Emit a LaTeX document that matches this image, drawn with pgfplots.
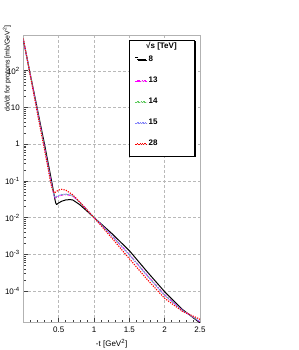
\documentclass[border=0pt]{standalone}
\usepackage{fontspec}
\setmainfont{Liberation Sans}
\usepackage{pgfplots}
\pgfplotsset{compat=1.18}
\usetikzlibrary{shadows}
\definecolor{cmag}{RGB}{255,0,255}
\definecolor{cgreen}{RGB}{90,205,90}
\definecolor{cblue}{RGB}{130,130,255}
\definecolor{cred}{RGB}{255,0,0}
\begin{document}
\begin{tikzpicture}[x=1pt,y=1pt]
\path[use as bounding box] (0,0) rectangle (299,350);
\begin{axis}[
  at={(23.3pt,27.3pt)}, anchor=south west,
  scale only axis, width=176.7pt, height=287.7pt,
  xmin=0, xmax=2.5, ymode=log, ymin=1.37e-5, ymax=940,
  xtick={0,0.5,1,1.5,2,2.5}, xticklabels={,0.5,1,1.5,2,2.5},
  minor x tick num=4,
  ytick={1e-4,1e-3,1e-2,1e-1,1,10,100},
  yticklabels={10\textsuperscript{-4},10\textsuperscript{-3},10\textsuperscript{-2},10\textsuperscript{-1},1,10,10\textsuperscript{2}},
  tick align=inside, xtick pos=bottom, ytick pos=left,
  major tick length=5pt, minor tick length=3pt,
  grid=major, major grid style={densely dashed, gray!55, line width=0.4pt},
  axis line style={gray!60, line width=0.8pt},
  tick style={black!75, line width=0.5pt},
  ticklabel style={font=\fontsize{8}{9}\selectfont},
  xticklabel style={yshift=-1pt},
  xlabel={-t [GeV\textsuperscript{2}]},
  ylabel={dσ/dt for protons [mb/GeV\textsuperscript{2}]},
  xlabel style={font=\fontsize{8}{9}\selectfont},
  every axis y label/.style={at={(rel axis cs:0,1)}, xshift=-8.8pt, yshift=13pt, rotate=90, anchor=south east, font=\fontsize{7.0}{8.5}\selectfont},
  legend style={at={(rel axis cs:0.598,0.983)}, anchor=north west, draw=black, fill=white,
     font=\fontsize{8}{9}\selectfont\bfseries, row sep=9.96pt, column sep=0pt,
     inner xsep=5pt, inner ysep=7pt,
     drop shadow={shadow xshift=1.3pt, shadow yshift=-1.3pt, fill=black, opacity=1}},
  legend cell align=left,
  legend image code/.code={\path[draw=none] (0pt,0pt) -- (3pt,0pt); \draw[#1] (3pt,0pt) -- (12pt,0pt);},
]
\addplot[black, line width=1pt,
  legend image code/.code={\path[draw=none] (0pt,0pt) -- (3pt,0pt); \draw[black, line width=1pt] (3pt,-3.25pt) -- (12pt,-3.25pt);}] table {
0.00 692
0.05 234
0.10 77.6
0.15 26.3
0.20 8.91
0.25 2.95
0.30 1.00
0.35 0.316
0.40 0.100
0.43 0.0479
0.45 0.0295
0.46 0.0245
0.47 0.0229
0.48 0.0232
0.50 0.0251
0.55 0.0282
0.60 0.0302
0.66 0.0309
0.70 0.0302
0.80 0.0224
0.90 0.0151
1.00 0.0100
1.10 0.00676
1.25 0.00372
1.50 0.00126
1.75 3.39e-4
2.00 9.55e-5
2.25 3.16e-5
2.50 1.35e-5
};
\addlegendentry{\rule{0pt}{12.2pt}\llap{\raisebox{12.3pt}[0pt][0pt]{\makebox[0pt][l]{\hspace*{-2.5pt}√s [TeV]}}}\makebox[38.5pt][l]{8}}
\addplot[cmag, line width=0.8pt, dash pattern=on 3pt off 1.5pt on 1pt off 1.5pt] table {
0.00 724
0.05 234
0.10 75.9
0.15 24.5
0.20 7.94
0.25 2.57
0.30 0.832
0.35 0.263
0.40 0.0832
0.43 0.0417
0.45 0.0339
0.47 0.0355
0.50 0.0380
0.55 0.0407
0.60 0.0417
0.65 0.0407
0.70 0.0380
0.80 0.0263
0.90 0.0166
1.00 0.0100
1.10 0.00646
1.25 0.00331
1.50 0.00100
1.75 2.75e-4
2.00 7.94e-5
2.25 3.02e-5
2.50 1.45e-5
};
\addlegendentry{13}
\addplot[cgreen, line width=0.8pt, dash pattern=on 2pt off 1.5pt on 0.8pt off 1.5pt] table {
0.00 730
0.05 236
0.10 76.0
0.15 24.3
0.20 7.80
0.25 2.50
0.30 0.80
0.35 0.252
0.40 0.080
0.43 0.0427
0.45 0.0350
0.47 0.0368
0.50 0.0392
0.55 0.0420
0.60 0.0427
0.65 0.0417
0.70 0.0389
0.80 0.0263
0.90 0.0165
1.00 0.0100
1.10 0.00640
1.25 0.00324
1.50 9.8e-4
1.75 2.68e-4
2.00 7.7e-5
2.25 2.98e-5
2.50 1.47e-5
};
\addlegendentry{14}
\addplot[cblue, line width=0.8pt, dash pattern=on 1.5pt off 1pt] table {
0.00 735
0.05 237
0.10 75.5
0.15 24.0
0.20 7.70
0.25 2.45
0.30 0.78
0.35 0.245
0.40 0.078
0.43 0.0437
0.45 0.0360
0.47 0.0380
0.50 0.0403
0.55 0.0432
0.60 0.0437
0.65 0.0427
0.70 0.0398
0.80 0.0264
0.90 0.0164
1.00 0.0100
1.10 0.00635
1.25 0.00318
1.50 9.6e-4
1.75 2.62e-4
2.00 7.5e-5
2.25 2.95e-5
2.50 1.49e-5
};
\addlegendentry{15}
\addplot[cred, line width=1.1pt, dash pattern=on 1.2pt off 1.2pt] table {
0.00 759
0.05 234
0.10 72.4
0.15 22.4
0.20 6.92
0.25 2.19
0.30 0.708
0.35 0.224
0.38 0.105
0.40 0.0708
0.42 0.0537
0.44 0.0468
0.46 0.0501
0.50 0.0562
0.54 0.0589
0.60 0.0562
0.70 0.0417
0.80 0.0263
0.90 0.0162
1.00 0.0100
1.10 0.00603
1.25 0.00282
1.50 7.59e-4
1.75 2.09e-4
2.00 6.31e-5
2.25 2.82e-5
2.50 1.70e-5
};
\addlegendentry{28}
\end{axis}
\end{tikzpicture}
\end{document}
